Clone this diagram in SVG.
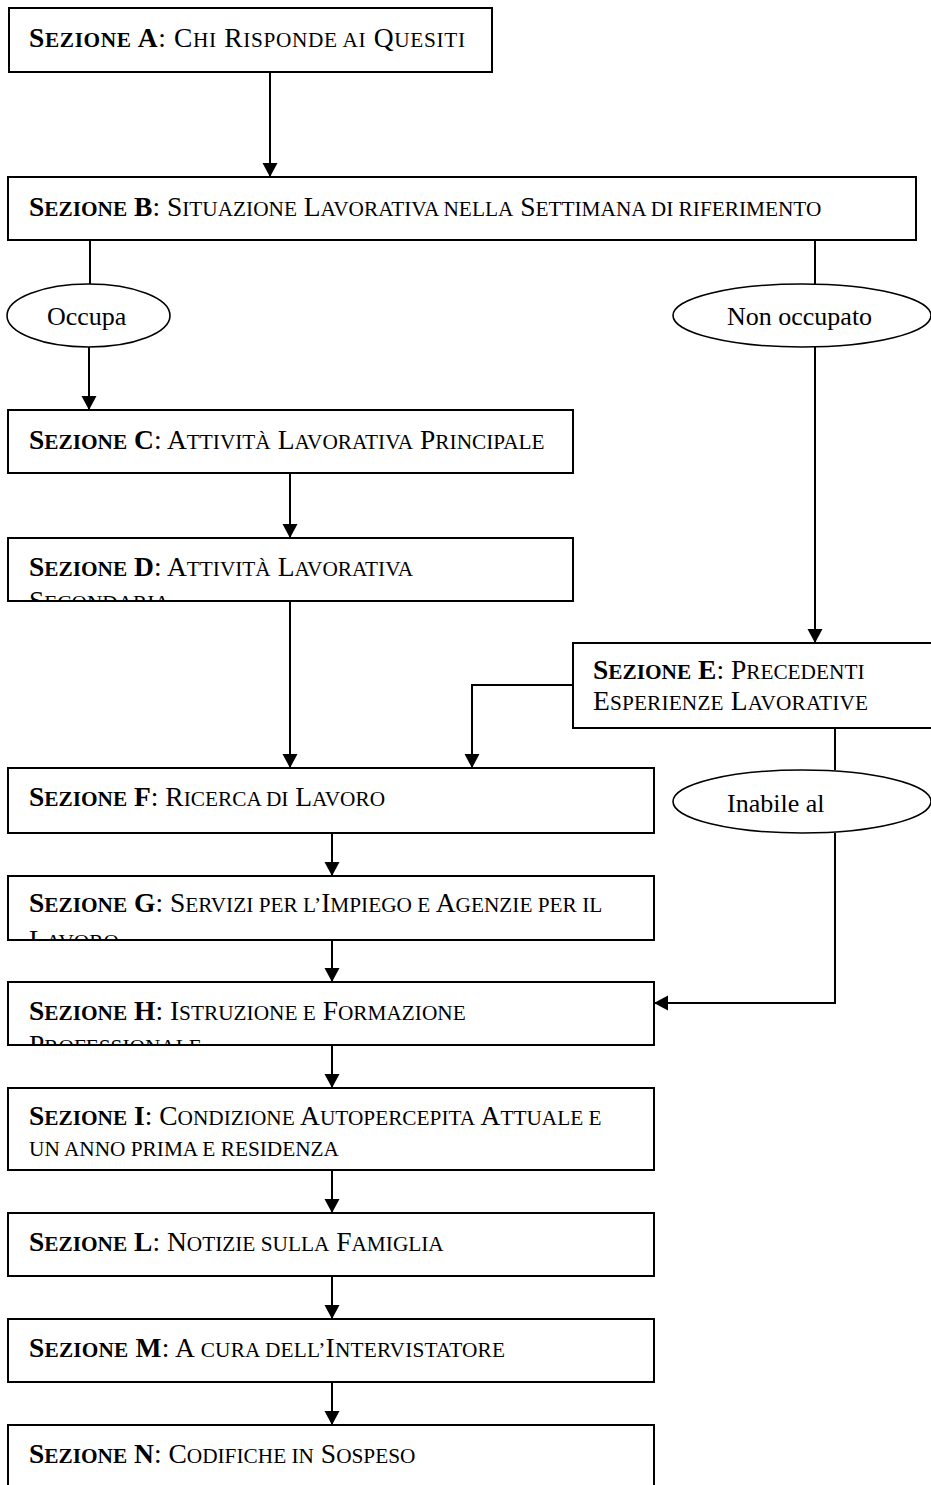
<svg xmlns="http://www.w3.org/2000/svg" width="931" height="1485" viewBox="0 0 931 1485">
<style>
.box{fill:#fff;stroke:#000;stroke-width:2}
.ell{fill:#fff;stroke:#000;stroke-width:1.6}
.ln{fill:none;stroke:#000;stroke-width:2}
.arr{marker-end:url(#ah)}
text{font-family:"Liberation Serif","Times New Roman",serif;font-size:27.5px;fill:#000}
.s{font-size:21.3px}
.b{font-weight:bold}
.e{font-family:"Liberation Serif","Times New Roman",serif;font-size:26px}
</style>
<defs>
<marker id="ah" markerUnits="userSpaceOnUse" markerWidth="16" markerHeight="16" refX="14" refY="7.5" orient="auto"><path d="M0,0 L14,7.5 L0,15 z" fill="#000"/></marker>
<clipPath id="cD"><rect x="9" y="539" width="563" height="61"/></clipPath>
<clipPath id="cG"><rect x="9" y="877" width="644" height="62"/></clipPath>
<clipPath id="cH"><rect x="9" y="983" width="644" height="61"/></clipPath>
</defs>
<g id="connectors">
<path class="ln arr" d="M270,72 V177"/>
<path class="ln" d="M90,240 V284"/>
<path class="ln arr" d="M89,347 V410"/>
<path class="ln" d="M815,240 V284"/>
<path class="ln arr" d="M815,347 V643"/>
<path class="ln arr" d="M290,473 V538"/>
<path class="ln arr" d="M290,601 V768"/>
<path class="ln arr" d="M573,685 H472 V768"/>
<path class="ln" d="M835,728 V770"/>
<path class="ln arr" d="M835,833 V1003 H654"/>
<path class="ln arr" d="M332,833 V876"/>
<path class="ln arr" d="M332,940 V982"/>
<path class="ln arr" d="M332,1045 V1088"/>
<path class="ln arr" d="M332,1170 V1213"/>
<path class="ln arr" d="M332,1276 V1319"/>
<path class="ln arr" d="M332,1382 V1425"/>
</g>
<g id="nodeA"><rect class="box" x="9" y="8" width="483" height="64"/>
<text x="29" y="47" textLength="436" lengthAdjust="spacing"><tspan class="b">S</tspan><tspan class="b s">EZIONE</tspan><tspan class="b"> A</tspan>: C<tspan class="s">HI</tspan> R<tspan class="s">ISPONDE AI</tspan> Q<tspan class="s">UESITI</tspan></text></g>
<g id="nodeB"><rect class="box" x="8" y="177" width="908" height="63"/>
<text x="29" y="216"><tspan class="b">S</tspan><tspan class="b s">EZIONE</tspan><tspan class="b"> B</tspan>: S<tspan class="s">ITUAZIONE</tspan> L<tspan class="s">AVORATIVA NELLA</tspan> S<tspan class="s">ETTIMANA DI RIFERIMENTO</tspan></text></g>
<g id="nodeOccupa"><ellipse class="ell" cx="88.5" cy="315.5" rx="81.5" ry="31.5"/><text class="e" x="47" y="325">Occupa</text></g>
<g id="nodeNonOccupato"><ellipse class="ell" cx="802" cy="315.5" rx="129" ry="31.5"/><text class="e" x="727" y="325">Non occupato</text></g>
<g id="nodeC"><rect class="box" x="8" y="410" width="565" height="63"/>
<text x="29" y="449"><tspan class="b">S</tspan><tspan class="b s">EZIONE</tspan><tspan class="b"> C</tspan>: A<tspan class="s">TTIVITÀ</tspan> L<tspan class="s">AVORATIVA</tspan> P<tspan class="s">RINCIPALE</tspan></text></g>
<g id="nodeD"><rect class="box" x="8" y="538" width="565" height="63"/>
<text x="29" y="576"><tspan class="b">S</tspan><tspan class="b s">EZIONE</tspan><tspan class="b"> D</tspan>: A<tspan class="s">TTIVITÀ</tspan> L<tspan class="s">AVORATIVA</tspan></text>
<text x="29" y="610" clip-path="url(#cD)">S<tspan class="s">ECONDARIA</tspan></text></g>
<g id="nodeE"><rect class="box" x="573" y="643" width="362" height="85"/>
<text x="593" y="679"><tspan class="b">S</tspan><tspan class="b s">EZIONE</tspan><tspan class="b"> E</tspan>: P<tspan class="s">RECEDENTI</tspan></text>
<text x="593" y="710" textLength="275" lengthAdjust="spacing">E<tspan class="s">SPERIENZE</tspan> L<tspan class="s">AVORATIVE</tspan></text></g>
<g id="nodeInabile"><ellipse class="ell" cx="802" cy="801.5" rx="129" ry="31.5"/><text class="e" x="727" y="812">Inabile al</text></g>
<g id="nodeF"><rect class="box" x="8" y="768" width="646" height="65"/>
<text x="29" y="806"><tspan class="b">S</tspan><tspan class="b s">EZIONE</tspan><tspan class="b"> F</tspan>: R<tspan class="s">ICERCA DI</tspan> L<tspan class="s">AVORO</tspan></text></g>
<g id="nodeG"><rect class="box" x="8" y="876" width="646" height="64"/>
<text x="29" y="912"><tspan class="b">S</tspan><tspan class="b s">EZIONE</tspan><tspan class="b"> G</tspan>: S<tspan class="s">ERVIZI PER L’</tspan>I<tspan class="s">MPIEGO E</tspan> A<tspan class="s">GENZIE PER IL</tspan></text>
<text x="29" y="949" clip-path="url(#cG)">L<tspan class="s">AVORO</tspan></text></g>
<g id="nodeH"><rect class="box" x="8" y="982" width="646" height="63"/>
<text x="29" y="1020"><tspan class="b">S</tspan><tspan class="b s">EZIONE</tspan><tspan class="b"> H</tspan>: I<tspan class="s">STRUZIONE E</tspan> F<tspan class="s">ORMAZIONE</tspan></text>
<text x="29" y="1054" clip-path="url(#cH)">P<tspan class="s">ROFESSIONALE</tspan></text></g>
<g id="nodeI"><rect class="box" x="8" y="1088" width="646" height="82"/>
<text x="29" y="1125"><tspan class="b">S</tspan><tspan class="b s">EZIONE</tspan><tspan class="b"> I</tspan>: C<tspan class="s">ONDIZIONE</tspan> A<tspan class="s">UTOPERCEPITA</tspan> A<tspan class="s">TTUALE E</tspan></text>
<text x="29" y="1156"><tspan class="s">UN ANNO PRIMA E RESIDENZA</tspan></text></g>
<g id="nodeL"><rect class="box" x="8" y="1213" width="646" height="63"/>
<text x="29" y="1251"><tspan class="b">S</tspan><tspan class="b s">EZIONE</tspan><tspan class="b"> L</tspan>: N<tspan class="s">OTIZIE SULLA</tspan> F<tspan class="s">AMIGLIA</tspan></text></g>
<g id="nodeM"><rect class="box" x="8" y="1319" width="646" height="63"/>
<text x="29" y="1357" textLength="476" lengthAdjust="spacing"><tspan class="b">S</tspan><tspan class="b s">EZIONE</tspan><tspan class="b"> M</tspan>: A <tspan class="s">CURA DELL’</tspan>I<tspan class="s">NTERVISTATORE</tspan></text></g>
<g id="nodeN"><rect class="box" x="8" y="1425" width="646" height="72"/>
<text x="29" y="1463"><tspan class="b">S</tspan><tspan class="b s">EZIONE</tspan><tspan class="b"> N</tspan>: C<tspan class="s">ODIFICHE IN</tspan> S<tspan class="s">OSPESO</tspan></text></g>
</svg>
